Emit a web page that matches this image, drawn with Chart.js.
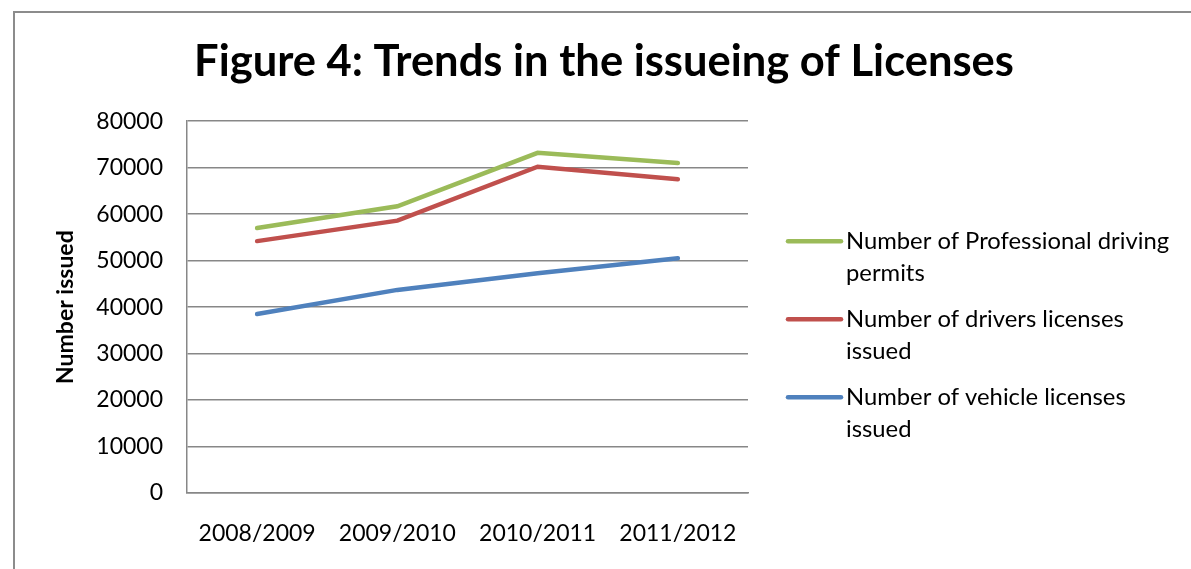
<!DOCTYPE html>
<html lang="en">
<head>
<meta charset="UTF-8">
<title>Trends in the issueing of Licenses</title>
<style>
  body { margin: 0; background: #fff; overflow: hidden; }
  /* grey frame round the chart, open on the right and bottom */
  .frame {
    position: absolute; left: 13px; top: 11px;
    width: 1400px; height: 800px;
    border-left: 2px solid #8c8c8c; border-top: 2px solid #8c8c8c;
  }
  #licenseChart { position: absolute; left: 0; top: 0; }
</style>
<script src="https://cdn.jsdelivr.net/npm/chart.js"></script>
</head>
<body>
<div class="frame"></div>
<canvas id="licenseChart" width="1191" height="569"></canvas>
<script>
// data
const years = ['2008/2009', '2009/2010', '2010/2011', '2011/2012'];
const professionalPermits = [57000, 61700, 73200, 71000];
const driversLicenses = [54200, 58600, 70200, 67500];
const vehicleLicenses = [38500, 43700, 47300, 50500];
const seriesLabels = [
  ['Number of Professional driving', 'permits'],
  ['Number of drivers licenses', 'issued'],
  ['Number of vehicle licenses', 'issued']
];
const yMin = 0, yMax = 80000, yStep = 10000;

const GREEN = '#9bbb59', RED = '#c0504d', BLUE = '#4f81bd';
const GRID = '#878787';
const FONT = 'Lato';

// legend drawn to the right of the plot, two-line labels
const sideLegend = {
  id: 'sideLegend',
  afterDraw(chart) {
    const { ctx, chartArea } = chart;
    const x0 = chartArea.right + 40;
    ctx.save();
    ctx.font = '23.8px ' + FONT;
    ctx.textBaseline = 'middle';
    ctx.fillStyle = '#000';
    chart.data.datasets.forEach((ds, i) => {
      const y = chartArea.top + 120 + i * 78;
      ctx.strokeStyle = ds.borderColor;
      ctx.lineWidth = 4.5;
      ctx.lineCap = 'round';
      ctx.beginPath();
      ctx.moveTo(x0, y);
      ctx.lineTo(x0 + 53, y);
      ctx.stroke();
      seriesLabels[i].forEach((line, k) => ctx.fillText(line, x0 + 58, y + k * 32));
    });
    ctx.restore();
  }
};

function lineSet(label, data, color) {
  return {
    label: label.join(' '),
    data: data,
    borderColor: color,
    backgroundColor: color,
    borderWidth: 4.5,
    borderCapStyle: 'round',
    pointRadius: 0,
    tension: 0,
    fill: false
  };
}

new Chart(document.getElementById('licenseChart'), {
  type: 'line',
  data: {
    labels: years,
    datasets: [
      lineSet(seriesLabels[0], professionalPermits, GREEN),
      lineSet(seriesLabels[1], driversLicenses, RED),
      lineSet(seriesLabels[2], vehicleLicenses, BLUE)
    ]
  },
  options: {
    responsive: false,
    animation: false,
    layout: { padding: { left: 17, right: 0, top: 0, bottom: 0 } },
    plugins: {
      legend: { display: false },
      tooltip: { enabled: false },
      title: {
        display: true,
        text: 'Figure 4: Trends in the issueing of Licenses',
        color: '#000',
        font: { family: FONT, size: 43.5, weight: 'bold', lineHeight: 1.2 },
        padding: { top: 36, bottom: 33 }
      }
    },
    scales: {
      x: {
        offset: true,
        grid: { display: false },
        border: { display: true, color: GRID, width: 1.5 },
        ticks: { color: '#000', padding: 19, font: { family: FONT, size: 23 } },
        afterFit: s => { s.height = 76; }
      },
      y: {
        min: yMin,
        max: yMax,
        grid: { color: GRID, lineWidth: 1.5, drawTicks: false },
        border: { display: true, color: GRID, width: 1.5 },
        ticks: {
          stepSize: yStep,
          color: '#000',
          padding: 24,
          font: { family: FONT, size: 23 },
          callback: v => String(v)
        },
        title: {
          display: true,
          text: 'Number issued',
          color: '#000',
          font: { family: FONT, size: 23, weight: 'bold' },
          padding: { top: 35, bottom: 0 }
        },
        afterFit: s => { s.width = 170; }
      },
      // empty axis on the right keeps room for the legend
      legendRoom: {
        type: 'linear',
        position: 'right',
        grid: { display: false },
        border: { display: false },
        ticks: { display: false },
        afterFit: s => { s.width = 443; }
      }
    }
  },
  plugins: [sideLegend]
});
</script>
</body>
</html>
